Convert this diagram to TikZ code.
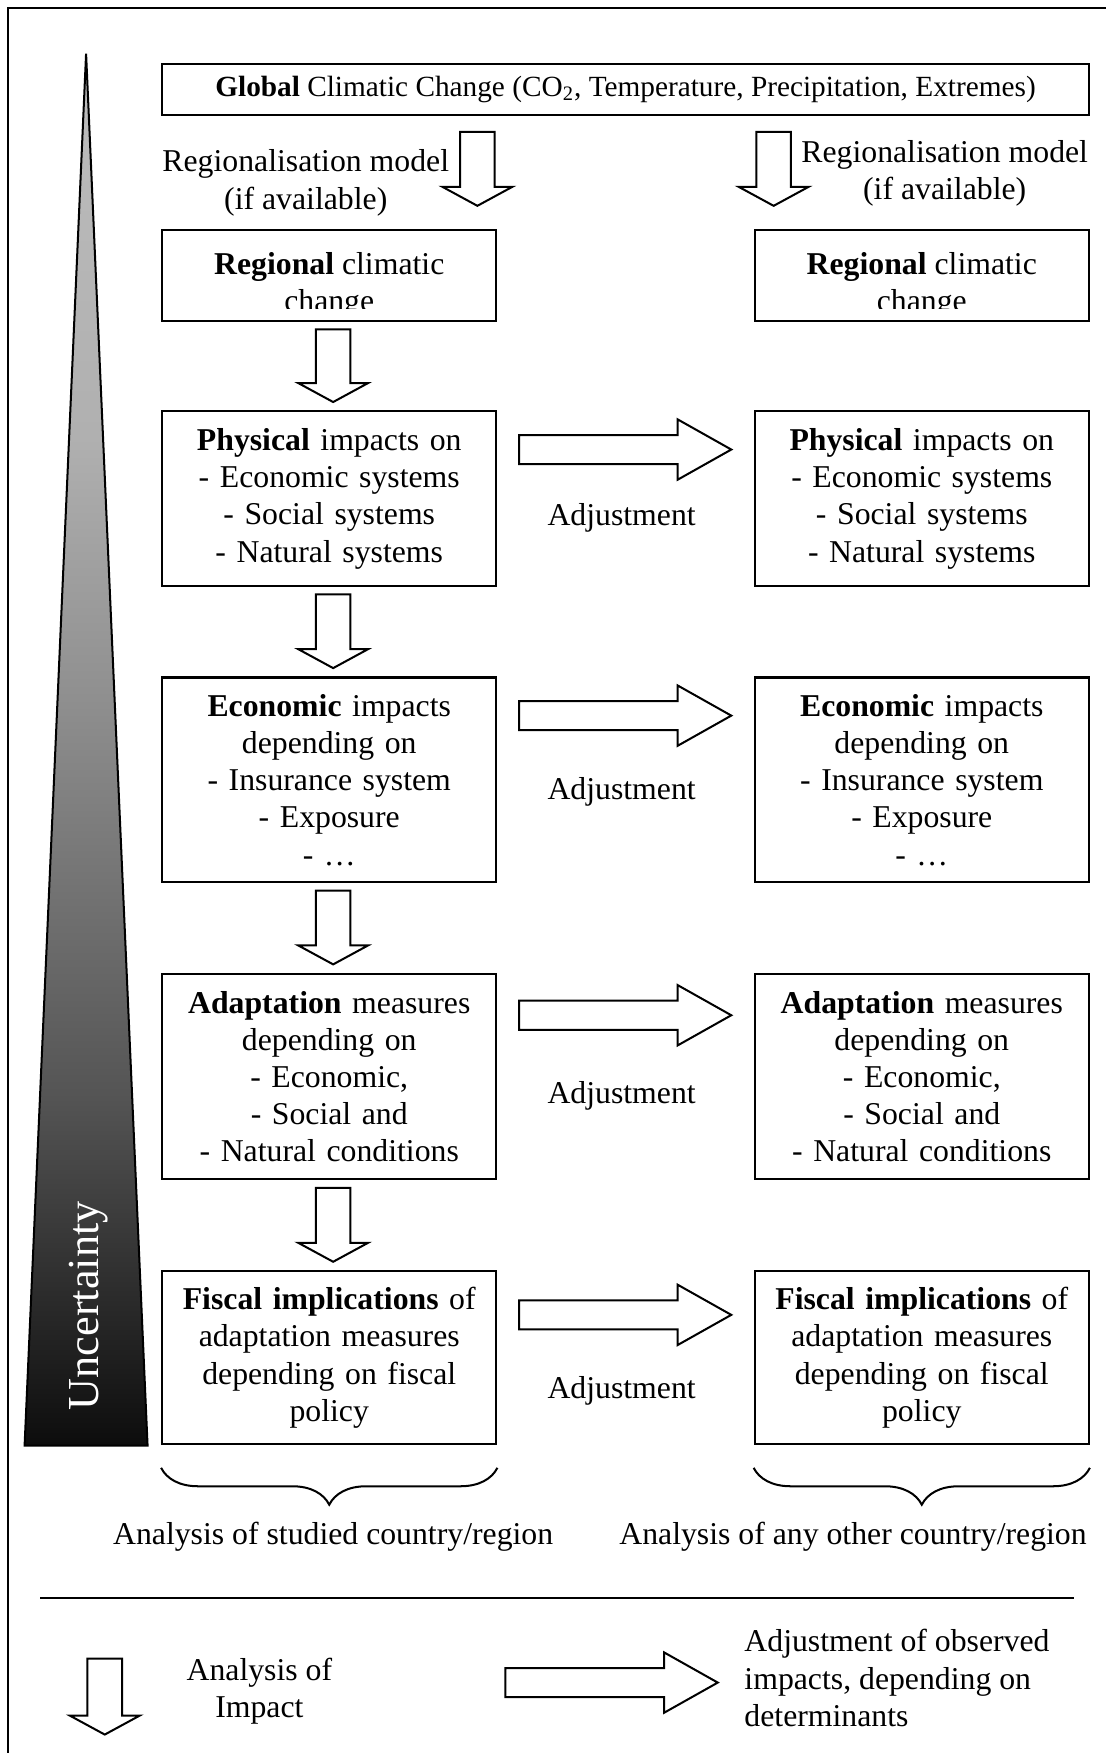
\documentclass[tikz,border=0pt]{standalone}
\usepackage{fontspec}
\setmainfont{Liberation Serif}
\usetikzlibrary{calc,decorations.pathreplacing}
\definecolor{ug0}{gray}{0.05}
\definecolor{ug1}{gray}{0.33}
\definecolor{ug2}{gray}{0.56}
\definecolor{ug3}{gray}{0.69}
\definecolor{ug4}{gray}{0.74}
\pgfdeclareverticalshading{unc}{100bp}{color(0bp)=(ug0); color(25bp)=(ug0); color(37.5bp)=(ug1); color(51.8bp)=(ug2); color(61.2bp)=(ug3); color(75bp)=(ug4); color(100bp)=(ug4)}
% down block arrow from top point #1 to tip #2
\newcommand\dblock[2]{\draw[blk] let \p1=#1, \p2=#2 in
  (\x1-7.75pt,\y1) -- (\x1+7.75pt,\y1) -- (\x1+7.75pt,\y2+8.5pt) -- (\x1+15.65pt,\y2+8.5pt)
  -- (\x2,\y2) -- (\x1-15.65pt,\y2+8.5pt) -- (\x1-7.75pt,\y2+8.5pt) -- cycle;}
% right block arrow from tail point #1 to tip #2
\newcommand\rblock[2]{\draw[blk] let \p1=#1, \p2=#2 in
  (\x1,\y1+6.5pt) -- (\x2-24pt,\y1+6.5pt) -- (\x2-24pt,\y1+13.5pt) -- (\x2,\y2)
  -- (\x2-24pt,\y1-13.5pt) -- (\x2-24pt,\y1-6.5pt) -- (\x1,\y1-6.5pt) -- cycle;}
\begin{document}
\begin{tikzpicture}[x=0.5pt,y=-0.5pt,line width=0.9pt,
  every node/.style={font=\fontsize{14.2}{16.65}\selectfont},
  boxbase/.style={draw,line width=0.9pt,inner sep=0pt,align=center},
  box/.style={boxbase,text width=140pt,minimum width=149.5pt},
  lbl/.style={inner sep=0pt,align=center},
  blk/.style={draw,fill=white,line width=0.9pt,line join=miter}]
\useasboundingbox (0,0) rectangle (989,1568);
% outer frame (only top and left visible)
\draw (7.5,1600) -- (7.5,7.5) -- (1010,7.5);
% uncertainty wedge
\shadedraw[shading=unc,line width=0.9pt] (77,48) -- (132,1293) -- (22,1293) -- cycle;
\node[rotate=90,text=white,inner sep=0pt,font=\fontsize{19.8}{24}\selectfont] (unc) at (79,1168) {Uncertainty};
% global box
\node[boxbase,minimum width=414.5pt,minimum height=23pt,font=\fontsize{13.1}{16}\selectfont] (glob) at (559.5,80)
  {\textbf{Global} Climatic Change (CO\textsubscript{2}, Temperature, Precipitation, Extremes)};
% regional boxes (text clipped at the bottom)
\node[box,minimum height=40.5pt] (regL) at (294.5,246.5) {};
\node[box,minimum height=40.5pt] (regR) at (824.5,246.5) {};
\begin{scope}
\clip ($(regL.north west)+(1,1)$) rectangle ($(regL.south east)+(-1,-12)$);
\node[lbl] (regLt) at (294.5,255) {\textbf{Regional} climatic\\change};
\end{scope}
\begin{scope}
\clip ($(regR.north west)+(1,1)$) rectangle ($(regR.south east)+(-1,-12)$);
\node[lbl] (regRt) at (824.5,255) {\textbf{Regional} climatic\\change};
\end{scope}
% column boxes
\node[box,minimum height=78pt] (physL) at (294.5,446) {\textbf{Physical} impacts on\\- Economic systems\\- Social systems\\- Natural systems};
\node[box,minimum height=78pt] (physR) at (824.5,446) {\textbf{Physical} impacts on\\- Economic systems\\- Social systems\\- Natural systems};
\node[box,minimum height=91.5pt] (econL) at (294.5,697.5) {\textbf{Economic} impacts\\depending on\\- Insurance system\\- Exposure\\- …};
\node[box,minimum height=91.5pt] (econR) at (824.5,697.5) {\textbf{Economic} impacts\\depending on\\- Insurance system\\- Exposure\\- …};
\node[box,minimum height=92pt] (adapL) at (294.5,963) {\textbf{Adaptation} measures\\depending on\\- Economic,\\- Social and\\- Natural conditions};
\node[box,minimum height=92pt] (adapR) at (824.5,963) {\textbf{Adaptation} measures\\depending on\\- Economic,\\- Social and\\- Natural conditions};
\node[box,minimum height=77.5pt] (fiscL) at (294.5,1214.5) {\textbf{Fiscal implications} of\\adaptation measures\\depending on fiscal\\policy};
\node[box,minimum height=77.5pt] (fiscR) at (824.5,1214.5) {\textbf{Fiscal implications} of\\adaptation measures\\depending on fiscal\\policy};
% regionalisation arrows and labels
\coordinate (rgxL) at (427,0);
\coordinate (rgxR) at (692,0);
\dblock{($(glob.south -| rgxL)+(0,14)$)}{($(regL.north -| rgxL)+(0,-21)$)}
\dblock{($(glob.south -| rgxR)+(0,14)$)}{($(regR.north -| rgxR)+(0,-21)$)}
\node[lbl] (rgmL) at (273.5,163.5) {Regionalisation model\\(if available)};
\node[lbl] (rgmR) at (845,155) {Regionalisation model\\(if available)};
% vertical flow arrows (left column)
\dblock{($(regL.south)+(3.5,6.7)$)}{($(physL.north)+(3.5,-7.5)$)}
\dblock{($(physL.south)+(3.5,6.7)$)}{($(econL.north)+(3.5,-7.5)$)}
\dblock{($(econL.south)+(3.5,6.7)$)}{($(adapL.north)+(3.5,-7.5)$)}
\dblock{($(adapL.south)+(3.5,6.7)$)}{($(fiscL.north)+(3.5,-7.5)$)}
% adjustment arrows
\rblock{($(physL.north east)+(19.5,35)$)}{($(physR.north west)+(-20,35)$)}
\rblock{($(econL.north east)+(19.5,35)$)}{($(econR.north west)+(-20,35)$)}
\rblock{($(adapL.north east)+(19.5,38)$)}{($(adapR.north west)+(-20,38)$)}
\rblock{($(fiscL.north east)+(19.5,40)$)}{($(fiscR.north west)+(-20,40)$)}
\node[lbl] (adj1) at (556,463) {Adjustment};
\node[lbl] (adj2) at (556,708) {Adjustment};
\node[lbl] (adj3) at (556,980) {Adjustment};
\node[lbl] (adj4) at (556,1244) {Adjustment};
% braces
\draw[decorate,decoration={brace,mirror,amplitude=16.5pt}] ($(fiscL.south west)+(0,20)$) -- ($(fiscL.south east)+(0,20)$);
\draw[decorate,decoration={brace,mirror,amplitude=16.5pt}] ($(fiscR.south west)+(0,20)$) -- ($(fiscR.south east)+(0,20)$);
\node[lbl] (anaL) at (298,1375) {Analysis of studied country/region};
\node[lbl] (anaR) at (763,1375) {Analysis of any other country/region};
% separator
\draw (36,1429) -- (961,1429);
% legend
\coordinate (lgA) at (93.7,1483.5);
\coordinate (lgB) at (93.7,1551.5);
\dblock{(lgA)}{(lgB)}
\node[lbl] (lgT1) at (232,1512.5) {Analysis of\\Impact};
\coordinate (lgC) at (452,1505);
\coordinate (lgD) at (642,1505);
\rblock{(lgC)}{(lgD)}
\node[lbl,align=left,anchor=west] (lgT2) at (665,1501) {Adjustment of observed\\impacts, depending on\\determinants};
\end{tikzpicture}
\end{document}
